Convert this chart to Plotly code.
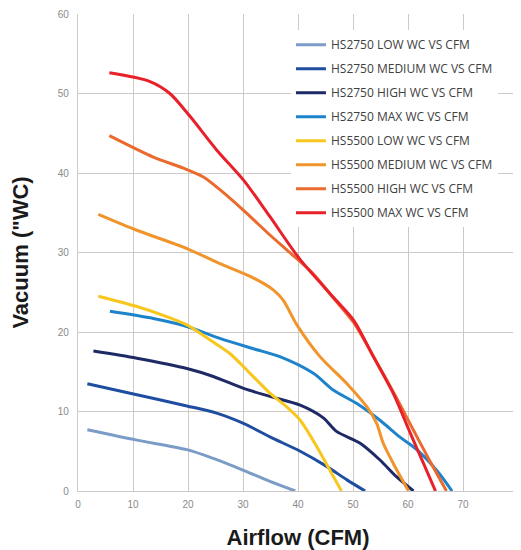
import plotly.graph_objects as go

names = ["HS2750 LOW WC VS CFM", "HS2750 MEDIUM WC VS CFM", "HS2750 HIGH WC VS CFM",
         "HS2750 MAX WC VS CFM", "HS5500 LOW WC VS CFM", "HS5500 MEDIUM WC VS CFM",
         "HS5500 HIGH WC VS CFM", "HS5500 MAX WC VS CFM"]
colors = ["#7A9CC6", "#1F4EA0", "#1E2A66", "#1D84CB", "#F7C71E", "#F0942B", "#EB6A2D", "#E8202A"]

hs2750_low_x = [1.7, 10.7, 19.8, 24.6, 30.1, 34.9, 39.5]
hs2750_low_y = [7.7, 6.4, 5.2, 4.1, 2.6, 1.2, 0]
hs2750_med_x = [1.7, 10.7, 19.8, 25.2, 30.1, 34.9, 40.4, 45.2, 48.9, 52.2]
hs2750_med_y = [13.5, 12.1, 10.7, 9.8, 8.5, 6.8, 5.0, 3.1, 1.4, 0]
hs2750_high_x = [2.8, 10.7, 19.8, 24.6, 30.1, 34.9, 40.4, 44.6, 47.0, 51.3, 54.9, 57.9, 61.0]
hs2750_high_y = [17.6, 16.7, 15.4, 14.4, 12.9, 11.9, 10.8, 9.2, 7.5, 6.0, 3.9, 1.8, 0]
hs2750_max_x = [5.8, 13.7, 19.8, 25.8, 31.9, 36.7, 42.8, 46.4, 50.7, 54.9, 58.5, 61.6, 65.2, 68.0]
hs2750_max_y = [22.6, 21.7, 20.7, 19.2, 17.9, 16.9, 14.8, 12.7, 11.0, 8.9, 6.8, 5.2, 2.6, 0]
hs5500_low_x = [3.7, 10.7, 15.5, 19.8, 24.0, 27.6, 31.3, 34.9, 37.9, 40.4, 43.4, 45.8, 47.9]
hs5500_low_y = [24.5, 23.2, 22.1, 20.9, 19.0, 17.3, 14.8, 12.3, 10.6, 8.9, 5.6, 2.6, 0]
hs5500_med_x = [3.7, 10.7, 19.8, 25.8, 31.3, 35.5, 37.3, 39.8, 44.0, 48.9, 52.5, 54.3, 55.5, 57.3, 60.1]
hs5500_med_y = [34.8, 32.8, 30.5, 28.6, 27.0, 25.3, 24.0, 20.9, 16.9, 13.5, 10.6, 8.5, 6.0, 3.5, 0]
hs5500_high_x = [5.7, 13.7, 19.2, 22.8, 25.8, 30.1, 34.9, 38.5, 42.8, 46.4, 50.1, 53.9, 57.6, 60.8, 63.8, 67.0]
hs5500_high_y = [44.7, 42.0, 40.6, 39.5, 37.9, 35.3, 32.2, 30.0, 27.3, 24.3, 21.2, 16.7, 12.1, 7.9, 4.0, 0]
hs5500_max_x = [5.7, 13.1, 16.7, 20.4, 25.2, 30.1, 34.9, 40.4, 46.4, 50.1, 53.7, 57.3, 60.4, 62.8, 65.0]
hs5500_max_y = [52.6, 51.5, 50.0, 47.1, 42.9, 39.1, 34.5, 29.1, 24.4, 21.5, 16.9, 12.3, 7.3, 3.5, 0]

series = [
    (hs2750_low_x, hs2750_low_y), (hs2750_med_x, hs2750_med_y),
    (hs2750_high_x, hs2750_high_y), (hs2750_max_x, hs2750_max_y),
    (hs5500_low_x, hs5500_low_y), (hs5500_med_x, hs5500_med_y),
    (hs5500_high_x, hs5500_high_y), (hs5500_max_x, hs5500_max_y),
]

x_ticks = [0, 10, 20, 30, 40, 50, 60, 70, 80]
y_ticks = [0, 10, 20, 30, 40, 50, 60]

fig = go.Figure()
for i, (name, color, (xs, ys)) in enumerate(zip(names, colors, series)):
    fig.add_trace(go.Scatter(
        x=xs, y=ys, mode="lines", name=name, legendgroup=f"g{i}",
        line=dict(color=color, width=3, shape="spline", smoothing=0.8),
    ))

grid = "#CFCACA"
fig.update_layout(
    width=513, height=542,
    margin=dict(l=70, r=3, t=6, b=59),
    paper_bgcolor="white", plot_bgcolor="white",
    font=dict(family="Liberation Sans, Arial, sans-serif"),
    legend=dict(
        x=0.484, y=0.966, xanchor="left", yanchor="top",
        bgcolor="white", borderwidth=0,
        font=dict(size=12, color="#404040", family="Open Sans, sans-serif"),
        tracegroupgap=5, itemwidth=30,
    ),
    xaxis=dict(
        range=[0, 80], tickvals=x_ticks, showgrid=True, gridcolor=grid, gridwidth=1.3,
        showline=True, linecolor=grid, linewidth=1.3, zeroline=False, automargin=False,
        tickfont=dict(size=10, color="#8A8A8A"), ticks="", ticklabelstandoff=4,
        title=dict(text="<b>Airflow (CFM)</b>", font=dict(size=22, color="#1a1a1a"), standoff=22),
    ),
    yaxis=dict(
        range=[0, 60], tickvals=y_ticks, showgrid=True, gridcolor=grid, gridwidth=1.3,
        showline=True, linecolor=grid, linewidth=1.3, zeroline=False, automargin=False,
        tickfont=dict(size=10, color="#8A8A8A"), ticks="", ticklabelstandoff=6,
        title=dict(text="<b>Vacuum (\"WC)</b>", font=dict(size=22, color="#1a1a1a"), standoff=26),
    ),
)

fig.write_html("out.html")
